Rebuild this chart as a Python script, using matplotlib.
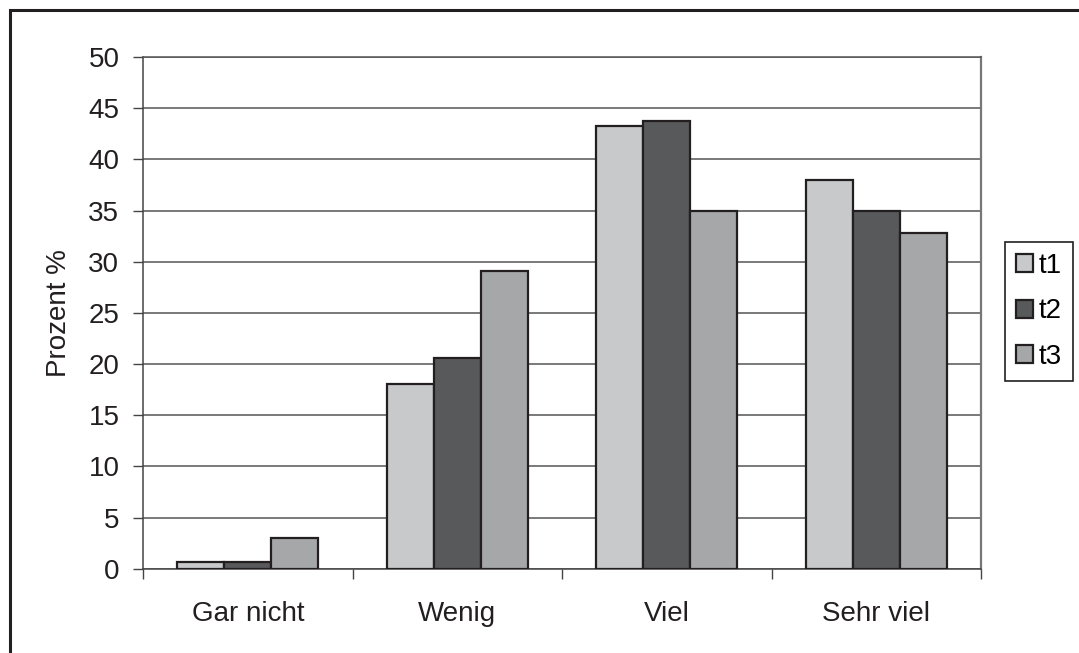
import matplotlib.pyplot as plt, numpy as np
from matplotlib.patches import Rectangle

plt.rcParams["font.family"] = ["Liberation Sans", "DejaVu Sans"]

categories = ["Gar nicht", "Wenig", "Viel", "Sehr viel"]
series = ["t1", "t2", "t3"]
t1 = [0.7, 18.0, 43.3, 38.0]
t2 = [0.7, 20.6, 43.7, 35.0]
t3 = [3.0, 29.1, 35.0, 32.8]
colors = ["#C8C9CB", "#58595B", "#A6A7A9"]
yticks = list(range(0, 51, 5))
fs = 20

fig = plt.figure(figsize=(10.79, 6.53), dpi=100)
ax = fig.add_axes([143/1079, 1-568.7/653, (981-143)/1079, (568.7-57)/653])

x = np.arange(len(categories)); w = 0.2245
for i, (vals, c, lab) in enumerate(zip([t1, t2, t3], colors, series)):
    ax.bar(x + (i-1)*w, vals, w, color=c, edgecolor="#231F20", linewidth=1.6, label=lab, zorder=3)

ax.set_xlim(-0.5, len(categories)-0.5); ax.set_ylim(0, 50)
ax.set_yticks(yticks)
ax.yaxis.grid(True, color="#555555", linewidth=1.1, zorder=0)
ax.set_xticks(x); ax.set_xticklabels(categories)
ax.set_xticks(np.arange(-0.5, len(categories), 1), minor=True)
ax.tick_params(axis="x", which="major", length=0, pad=23, labelsize=fs, labelcolor="#231F20")
ax.tick_params(axis="x", which="minor", length=7, width=1, color="#444444", direction="out")
ax.tick_params(axis="y", length=7, width=1, color="#444444", pad=10, labelsize=fs, labelcolor="#231F20")
for s in ["left", "bottom"]:
    ax.spines[s].set_color("#444444"); ax.spines[s].set_linewidth(1.1)
ax.spines["right"].set_color("#777777"); ax.spines["right"].set_linewidth(1.6)
ax.spines["top"].set_color("#555555"); ax.spines["top"].set_linewidth(1.1)
ax.set_ylabel("Prozent %", fontsize=fs, labelpad=12, color="#231F20")

leg = fig.legend(loc="center left", bbox_to_anchor=(1005/1079, 1-311.5/653), fontsize=fs,
                 handlelength=0.6, handleheight=0.6, handletextpad=0.2, labelspacing=0.7,
                 borderpad=0.4, borderaxespad=0, fancybox=False, framealpha=1)
leg.get_frame().set_edgecolor("#231F20"); leg.get_frame().set_linewidth(1.2)

# outer chart frame, cut off at the right and bottom edges
fig.patches.append(Rectangle((9.5/1079, -0.1), 1.2, 1.1-10/653, transform=fig.transFigure,
                             fill=False, edgecolor="#231F20", linewidth=2.2))

plt.savefig("out.png", dpi=100)
plt.close()
